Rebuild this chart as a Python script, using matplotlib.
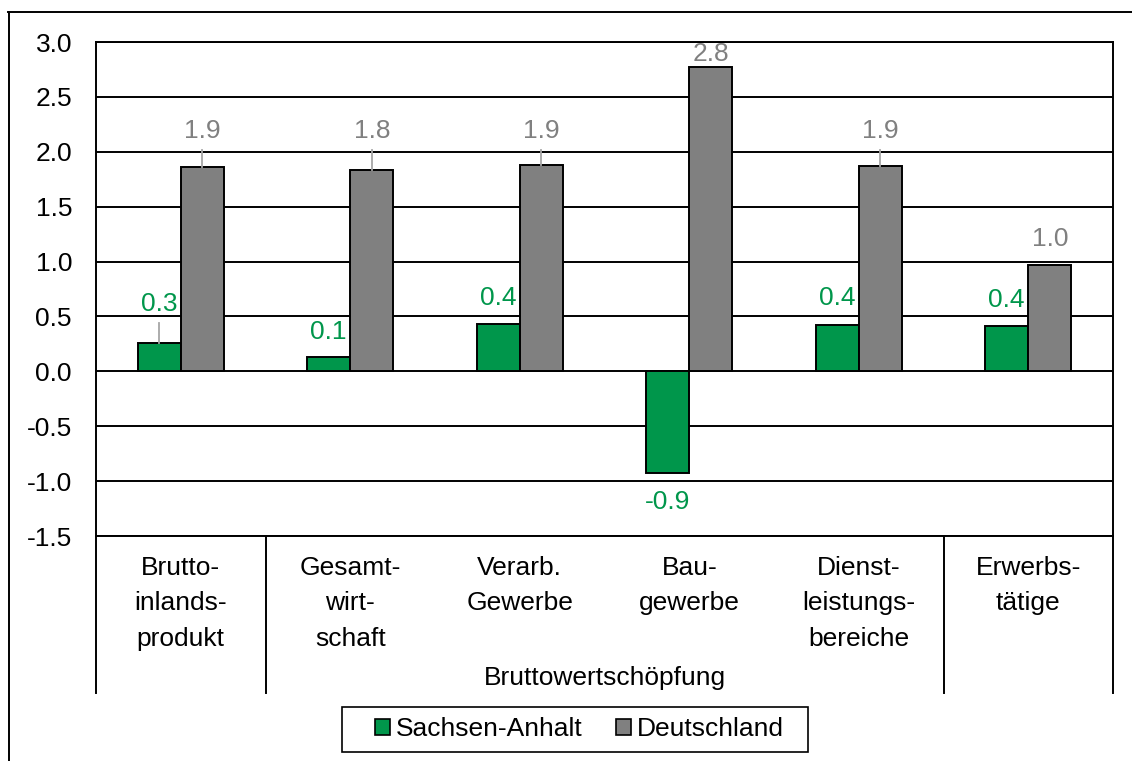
import matplotlib
matplotlib.use("Agg")
import matplotlib.pyplot as plt
from matplotlib.lines import Line2D
from matplotlib.patches import Patch, Rectangle
import matplotlib.transforms as mtransforms

plt.rcParams['font.family'] = ['Liberation Sans', 'DejaVu Sans']

# Data
categories = ["Brutto-\ninlands-\nprodukt", "Gesamt-\nwirt-\nschaft", "Verarb.\nGewerbe",
              "Bau-\ngewerbe", "Dienst-\nleistungs-\nbereiche", "Erwerbs-\ntätige"]
group_label = "Bruttowertschöpfung"
series_names = ["Sachsen-Anhalt", "Deutschland"]
sachsen_anhalt = [0.26, 0.13, 0.43, -0.93, 0.42, 0.41]
deutschland = [1.86, 1.83, 1.88, 2.77, 1.87, 0.97]
y_ticks = [-1.5, -1.0, -0.5, 0.0, 0.5, 1.0, 1.5, 2.0, 2.5, 3.0]

# Styling
GREEN = "#00964B"
GREY = "#808080"
FS = 19
W, H, DPI = 1132, 761, 100

# Label distance from bar end (pixels); some labels carry a leader line
green_label_offset = [39, 25, 26, 29, 27, 26]
grey_label_offset = [36, 39, 34, 13, 35, 26]

fig = plt.figure(figsize=(W / DPI, H / DPI), dpi=DPI)
ax = fig.add_axes([96 / W, 1 - 536 / H, (1113 - 96) / W, (536 - 42) / H])

n = len(categories)
x = list(range(n))
bw = 0.254
ax.set_ylim(-1.5, 3.0)
ax.set_xlim(-0.5, n - 0.5)

for yv in y_ticks:
    ax.axhline(yv, color="black", lw=1.4, zorder=1)

ax.bar([i - bw / 2 for i in x], sachsen_anhalt, width=bw, color=GREEN,
       edgecolor="black", linewidth=1.4, zorder=3)
ax.bar([i + bw / 2 for i in x], deutschland, width=bw, color=GREY,
       edgecolor="black", linewidth=1.4, zorder=3)

px2pt = 72 / DPI


def label_bars(vals, offs, color, shift):
    for i, (v, off) in enumerate(zip(vals, offs)):
        xc = i + shift
        sign = 1 if v >= 0 else -1
        ax.annotate(f"{v:.1f}", xy=(xc, v), xytext=(0, sign * off * px2pt),
                    textcoords="offset points", ha="center", va="center",
                    fontsize=FS, color=color, zorder=5)
        if off > 30:
            xp, y0 = ax.transData.transform((xc, v))
            y1 = y0 + sign * (off - 19)
            ax.add_line(Line2D([xp, xp], [y0, y1], transform=None,
                               color="#A6A6A6", lw=1.3, zorder=4))


label_bars(sachsen_anhalt, green_label_offset, GREEN, -bw / 2)
label_bars(deutschland, grey_label_offset, GREY, bw / 2)

# Axes styling
ax.set_yticks(y_ticks)
ax.set_yticklabels([f"{v:.1f}" for v in y_ticks], fontsize=FS)
ax.tick_params(axis="y", length=0, pad=24 * px2pt)
ax.set_xticks([])
for s in ax.spines.values():
    s.set_color("black")
    s.set_linewidth(1.4)

# Two-level category axis
blend = mtransforms.blended_transform_factory(ax.transData, ax.transAxes)
ax_h = 536 - 42
for xb in [-0.5, 0.5, 4.5, 5.5]:
    ax.add_line(Line2D([xb, xb], [0, -(693 - 536) / ax_h], transform=blend,
                       color="black", lw=1.4, clip_on=False))
for i, lab in enumerate(categories):
    ax.text(i, -(556 - 536) / ax_h, lab, transform=blend, ha="center", va="top",
            fontsize=FS, linespacing=1.6)
ax.text(2.5, -(678 - 536) / ax_h, group_label, transform=blend, ha="center",
        va="center", fontsize=FS)

# Legend with a separately drawn frame
handles = [Patch(facecolor=GREEN, edgecolor="black", linewidth=1.2),
           Patch(facecolor=GREY, edgecolor="black", linewidth=1.2)]
fig.legend(handles, series_names, loc="center", bbox_to_anchor=(579.5 / W, 1 - 729 / H),
           ncol=2, fontsize=FS, frameon=False, handlelength=0.55,
           handleheight=0.55, handletextpad=0.23, columnspacing=1.29,
           borderpad=0.0)
fig.add_artist(Rectangle((342 / W, 1 - 752 / H), (808 - 342) / W, (752 - 707) / H,
                         transform=fig.transFigure, facecolor="none",
                         edgecolor="black", linewidth=1.2))

# Outer frame (left and top edges)
fig.add_artist(Line2D([8.5 / W, 8.5 / W], [0, 1 - 12 / H], transform=fig.transFigure,
                      color="black", lw=1.4))
fig.add_artist(Line2D([8 / W, 1], [1 - 12 / H, 1 - 12 / H], transform=fig.transFigure,
                      color="black", lw=1.4))

fig.savefig("out.png", dpi=DPI)
